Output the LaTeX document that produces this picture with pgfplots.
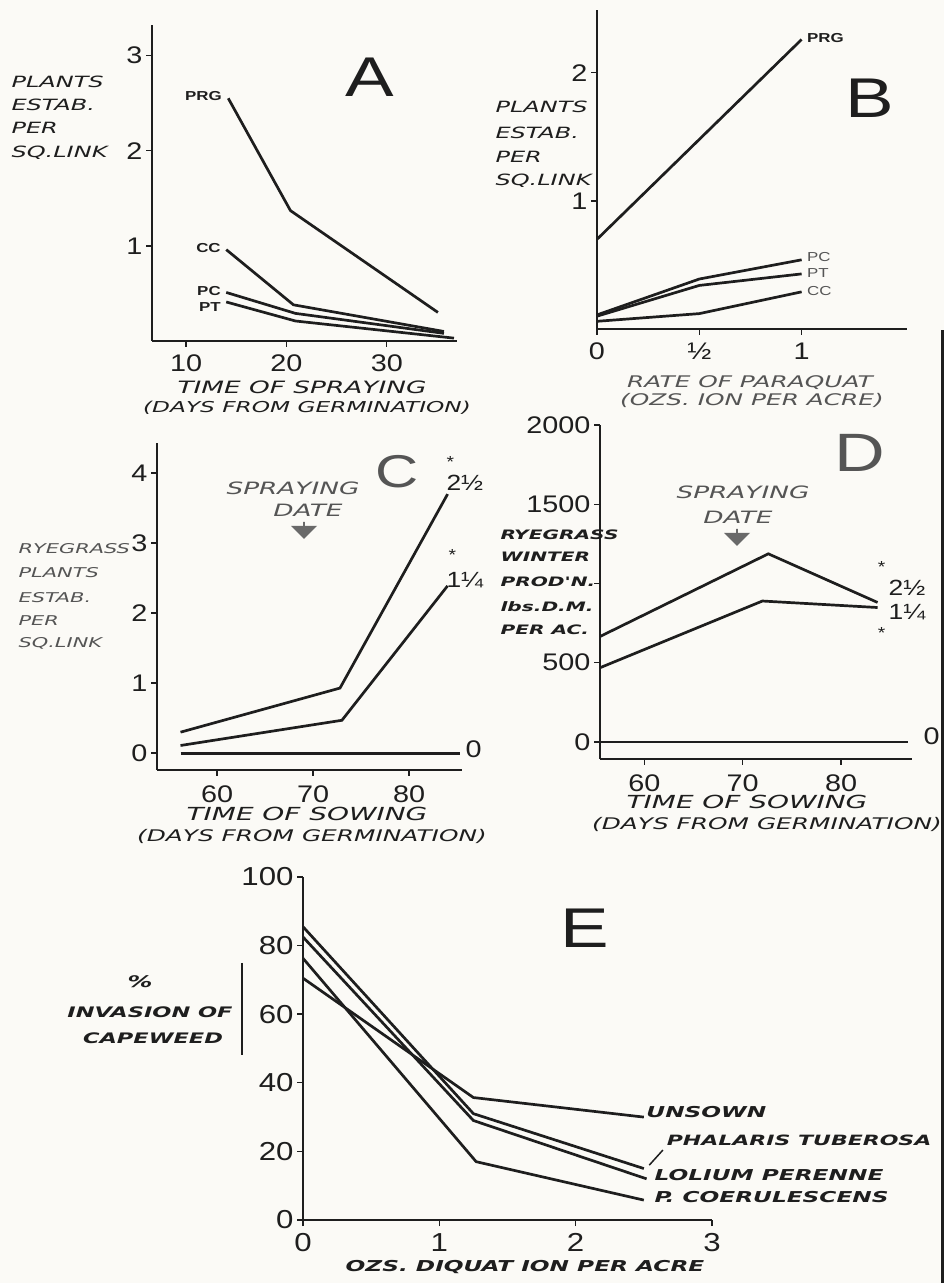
\documentclass[border=0pt]{standalone}
\usepackage{pgfplots}
\pgfplotsset{compat=1.18}
\usepackage{fontspec}
\setmainfont{DejaVu Sans}
\newfontfamily\hand[FakeStretch=1.55]{DejaVu Sans}
\newfontfamily\tk[FakeStretch=1.2]{Liberation Sans}
\newfontfamily\lb[FakeStretch=1.3]{Liberation Sans}
\usetikzlibrary{shapes.arrows}
\definecolor{ink}{RGB}{30,30,30}
\definecolor{paper}{RGB}{251,250,246}
\definecolor{arr}{RGB}{105,105,105}
\definecolor{soft}{RGB}{85,85,85}

\pgfplotsset{
 pan/.style={
  scale only axis, anchor=south west,
  axis lines=left, axis line style={-, line width=1.7pt, draw=ink},
  tick align=outside, major tick length=6pt,
  tick style={line width=1.4pt, draw=ink},
  tick label style={font=\tk\fontsize{24}{24}\selectfont, text=ink},
  /pgf/number format/assume math mode=true,
  clip=false,
  every axis plot post/.append style={draw=ink, line width=2.7pt, mark=none},
  xticklabel style={yshift=-4pt},
 }
}
\newcommand\hA{\hand\itshape\fontsize{15.5}{18}\selectfont}
\newcommand\hX{\hand\itshape\fontsize{17}{18}\selectfont}
\newcommand\hXs{\hand\itshape\fontsize{15}{18}\selectfont}
\newcommand\hB{\hand\bfseries\itshape\fontsize{15}{18}\selectfont}

\begin{document}
\begin{tikzpicture}
\useasboundingbox (0pt,0pt) rectangle (944pt,1283pt);
\fill[paper] (0pt,0pt) rectangle (944pt,1283pt);

% ---------------- A ----------------
\begin{axis}[pan, at={(152pt,942pt)}, width=305pt, height=316pt,
 xmin=6.6, xmax=37, ymin=0, ymax=3.32,
 xtick={10,20,30}, xticklabels={10,20,30},
 ytick={1,2,3}, yticklabels={1,2,3}]
\addplot coordinates {(14.2,2.55) (20.4,1.37) (35.1,0.30)};
\addplot coordinates {(14.0,0.96) (20.7,0.38) (35.7,0.10)};
\addplot coordinates {(14.0,0.51) (20.9,0.29) (35.7,0.08)};
\addplot coordinates {(14.0,0.41) (20.9,0.21) (36.7,0.03)};
\node[anchor=east, font=\lb\bfseries\fontsize{13}{13}\selectfont, text=ink] at (axis cs:13.9,2.57) {PRG};
\node[anchor=east, font=\lb\bfseries\fontsize{13}{13}\selectfont, text=ink] at (axis cs:13.8,0.98) {CC};
\node[anchor=east, font=\lb\bfseries\fontsize{13}{13}\selectfont, text=ink] at (axis cs:13.8,0.53) {PC};
\node[anchor=east, font=\lb\bfseries\fontsize{13}{13}\selectfont, text=ink] at (axis cs:13.8,0.36) {PT};
\end{axis}
\node[anchor=base west, font=\hA, text=ink] at (8pt,1195pt) {PLANTS};
\node[anchor=base west, font=\hA, text=ink] at (8pt,1172pt) {ESTAB.};
\node[anchor=base west, font=\hA, text=ink] at (8pt,1149pt) {PER};
\node[anchor=base west, font=\hA, text=ink] at (8pt,1125pt) {SQ.LINK};
\node[font=\hX, text=ink] at (302pt,896pt) {TIME OF SPRAYING};
\node[font=\hXs, text=ink] at (307pt,875pt) {(DAYS FROM GERMINATION)};
\node[font=\lb\fontsize{56}{56}\selectfont, text=ink] at (370pt,1206pt) {A};

% ---------------- B ----------------
\begin{axis}[pan, at={(597pt,954pt)}, width=310pt, height=319pt,
 xmin=0, xmax=1.515, ymin=0, ymax=2.49,
 xtick={0,0.5,1}, xticklabels={0,½,1},
 ytick={1,2}, yticklabels={1,2}]
\addplot coordinates {(0,0.70) (0.5,1.48) (1,2.26)};
\addplot coordinates {(0,0.11) (0.5,0.39) (1,0.54)};
\addplot coordinates {(0,0.10) (0.5,0.34) (1,0.43)};
\addplot coordinates {(0,0.06) (0.5,0.12) (1,0.29)};
\node[anchor=west, font=\lb\bfseries\fontsize{13}{13}\selectfont, text=ink] at (axis cs:1.01,2.27) {PRG};
\node[anchor=west, font=\lb\fontsize{13}{13}\selectfont, text=soft] at (axis cs:1.01,0.56) {PC};
\node[anchor=west, font=\lb\fontsize{13}{13}\selectfont, text=soft] at (axis cs:1.01,0.44) {PT};
\node[anchor=west, font=\lb\fontsize{13}{13}\selectfont, text=soft] at (axis cs:1.01,0.30) {CC};
\end{axis}
\node[anchor=base west, font=\hA, text=ink] at (492pt,1170pt) {PLANTS};
\node[anchor=base west, font=\hA, text=ink] at (492pt,1144pt) {ESTAB.};
\node[anchor=base west, font=\hA, text=ink] at (492pt,1120pt) {PER};
\node[anchor=base west, font=\hA, text=ink] at (492pt,1097pt) {SQ.LINK};
\node[font=\hand\itshape\fontsize{16}{18}\selectfont, text=soft] at (750pt,900pt) {RATE OF PARAQUAT};
\node[font=\hand\itshape\fontsize{16}{18}\selectfont, text=soft] at (752pt,883pt) {(OZS. ION PER ACRE)};
\node[font=\lb\fontsize{56}{56}\selectfont, text=ink] at (870pt,1185pt) {B};

% ---------------- C ----------------
\begin{axis}[pan, at={(157pt,513pt)}, width=305pt, height=327pt,
 xmin=53.75, xmax=85.5, ymin=-0.24, ymax=4.43,
 xtick={60,70,80}, xticklabels={60,70,80},
 xticklabel style={yshift=-2pt},
 ytick={0,1,2,3,4}, yticklabels={0,1,2,3,4}]
\addplot coordinates {(56.2,0.30) (72.8,0.93) (84.0,3.70)};
\addplot coordinates {(56.2,0.11) (73.0,0.47) (84.0,2.39)};
\addplot coordinates {(56.2,0.00) (85.3,0.00)};
\node[font=\tk\fontsize{16}{16}\selectfont, text=ink] at (axis cs:84.3,4.16) {*};
\node[font=\tk\fontsize{22}{22}\selectfont, text=ink] at (axis cs:85.8,3.86) {2½};
\node[font=\tk\fontsize{16}{16}\selectfont, text=ink] at (axis cs:84.5,2.83) {*};
\node[font=\tk\fontsize{22}{22}\selectfont, text=ink] at (axis cs:85.8,2.47) {1¼};
\node[font=\tk\fontsize{24}{24}\selectfont, text=ink] at (axis cs:86.7,0.05) {0};
\end{axis}
\node[anchor=base west, font=\hand\itshape\fontsize{13.5}{16}\selectfont, text=soft] at (15pt,729pt) {RYEGRASS};
\node[anchor=base west, font=\hand\itshape\fontsize{13.5}{16}\selectfont, text=soft] at (15pt,705pt) {PLANTS};
\node[anchor=base west, font=\hand\itshape\fontsize{13.5}{16}\selectfont, text=soft] at (15pt,680pt) {ESTAB.};
\node[anchor=base west, font=\hand\itshape\fontsize{13.5}{16}\selectfont, text=soft] at (15pt,657pt) {PER};
\node[anchor=base west, font=\hand\itshape\fontsize{13.5}{16}\selectfont, text=soft] at (15pt,635pt) {SQ.LINK};
\node[font=\hand\itshape\fontsize{18}{18}\selectfont, text=ink] at (307pt,469pt) {TIME OF SOWING};
\node[font=\hand\itshape\fontsize{16}{18}\selectfont, text=ink] at (312pt,447pt) {(DAYS FROM GERMINATION)};
\node[font=\lb\fontsize{46}{46}\selectfont, text=soft] at (397pt,811pt) {C};
\node[font=\hand\itshape\fontsize{17}{18}\selectfont, text=soft] at (293pt,795pt) {SPRAYING};
\node[font=\hand\itshape\fontsize{17}{18}\selectfont, text=soft] at (308pt,773pt) {DATE};
\node[single arrow, draw=none, fill=arr, rotate=-90, minimum height=17pt, minimum width=26pt, single arrow head extend=3pt, inner sep=0pt] at (304pt,753pt) {};

% ---------------- D ----------------
\begin{axis}[pan, at={(600pt,524pt)}, width=312pt, height=334pt,
 xmin=55.5, xmax=87.2, ymin=-108, ymax=2000,
 xtick={60,70,80}, xticklabels={60,70,80},
 xticklabel style={yshift=-2pt},
 ytick={0,500,1000,1500,2000}, yticklabels={0,500,,1500,2000}]
\addplot coordinates {(55.5,665) (72.6,1187) (83.7,880)};
\addplot coordinates {(55.5,468) (72.0,889) (83.7,848)};
\addplot coordinates {(55.3,0) (86.8,0)};
\node[font=\tk\fontsize{16}{16}\selectfont, text=ink] at (axis cs:84.1,1101) {*};
\node[font=\tk\fontsize{22}{22}\selectfont, text=ink] at (axis cs:86.7,975) {2½};
\node[font=\tk\fontsize{22}{22}\selectfont, text=ink] at (axis cs:86.7,817) {1¼};
\node[font=\tk\fontsize{16}{16}\selectfont, text=ink] at (axis cs:84.1,690) {*};
\node[font=\tk\fontsize{24}{24}\selectfont, text=ink] at (axis cs:89.2,38) {0};
\end{axis}
\node[anchor=base west, font=\hand\bfseries\itshape\fontsize{13}{16}\selectfont, text=ink] at (497pt,743pt) {RYEGRASS};
\node[anchor=base west, font=\hand\bfseries\itshape\fontsize{13}{16}\selectfont, text=ink] at (497pt,721pt) {WINTER};
\node[anchor=base west, font=\hand\bfseries\itshape\fontsize{13}{16}\selectfont, text=ink] at (497pt,696pt) {PROD'N.};
\node[anchor=base west, font=\hand\bfseries\itshape\fontsize{13}{16}\selectfont, text=ink] at (497pt,671pt) {lbs.D.M.};
\node[anchor=base west, font=\hand\bfseries\itshape\fontsize{13}{16}\selectfont, text=ink] at (497pt,648pt) {PER AC.};
\node[font=\hand\itshape\fontsize{18}{18}\selectfont, text=ink] at (747pt,481pt) {TIME OF SOWING};
\node[font=\hand\itshape\fontsize{16}{18}\selectfont, text=ink] at (767pt,459pt) {(DAYS FROM GERMINATION)};
\node[font=\lb\fontsize{54}{54}\selectfont, text=soft] at (860pt,830pt) {D};
\node[font=\hand\itshape\fontsize{17}{18}\selectfont, text=soft] at (743pt,791pt) {SPRAYING};
\node[font=\hand\itshape\fontsize{17}{18}\selectfont, text=soft] at (738pt,766pt) {DATE};
\node[single arrow, draw=none, fill=arr, rotate=-90, minimum height=17pt, minimum width=26pt, single arrow head extend=3pt, inner sep=0pt] at (737pt,746pt) {};

% ---------------- E ----------------
\begin{axis}[pan, at={(303pt,63pt)}, width=409pt, height=343pt,
 xmin=0, xmax=3, ymin=0, ymax=100,
 tick label style={font=\tk\fontsize{26}{26}\selectfont, text=ink},
 xtick={0,1,2,3}, xticklabels={0,1,2,3},
 ytick={0,20,40,60,80,100}, yticklabels={0,20,40,60,80,100}]
\addplot coordinates {(0,70.5) (1.25,35.7) (2.5,30)};
\addplot coordinates {(0,85.5) (1.25,31) (2.5,15)};
\addplot coordinates {(0,82.5) (1.25,29) (2.52,12)};
\addplot coordinates {(0,76.3) (1.27,17) (2.5,5.8)};
\draw[line width=1.5pt, ink] (axis cs:2.54,16) -- (axis cs:2.64,20.4);
\node[anchor=west, font=\hB, text=ink, inner sep=1pt] at (axis cs:2.51,31.5) {UNSOWN};
\node[anchor=west, font=\hand\bfseries\itshape\fontsize{14.2}{18}\selectfont, text=ink, inner sep=1pt] at (axis cs:2.66,23.3) {PHALARIS TUBEROSA};
\node[anchor=west, font=\hB, text=ink, inner sep=1pt] at (axis cs:2.57,13.1) {LOLIUM PERENNE};
\node[anchor=west, font=\hB, text=ink, inner sep=1pt] at (axis cs:2.57,6.7) {P. COERULESCENS};
\end{axis}
\node[font=\hand\bfseries\itshape\fontsize{16}{18}\selectfont, text=ink] at (140pt,301pt) {\%};
\node[font=\hand\bfseries\itshape\fontsize{14.5}{18}\selectfont, text=ink] at (150pt,271pt) {INVASION OF};
\node[font=\hand\bfseries\itshape\fontsize{14.5}{18}\selectfont, text=ink] at (153pt,245pt) {CAPEWEED};
\draw[line width=1.2pt, ink] (242pt,320pt) -- (242pt,228pt);
\node[font=\hand\bfseries\itshape\fontsize{15}{18}\selectfont, text=ink] at (525pt,16pt) {OZS. DIQUAT ION PER ACRE};
\node[font=\lb\fontsize{56}{56}\selectfont, text=ink] at (585pt,355pt) {E};

\draw[line width=3pt, ink] (942.5pt,0pt) -- (942.5pt,953pt);
\end{tikzpicture}
\end{document}
